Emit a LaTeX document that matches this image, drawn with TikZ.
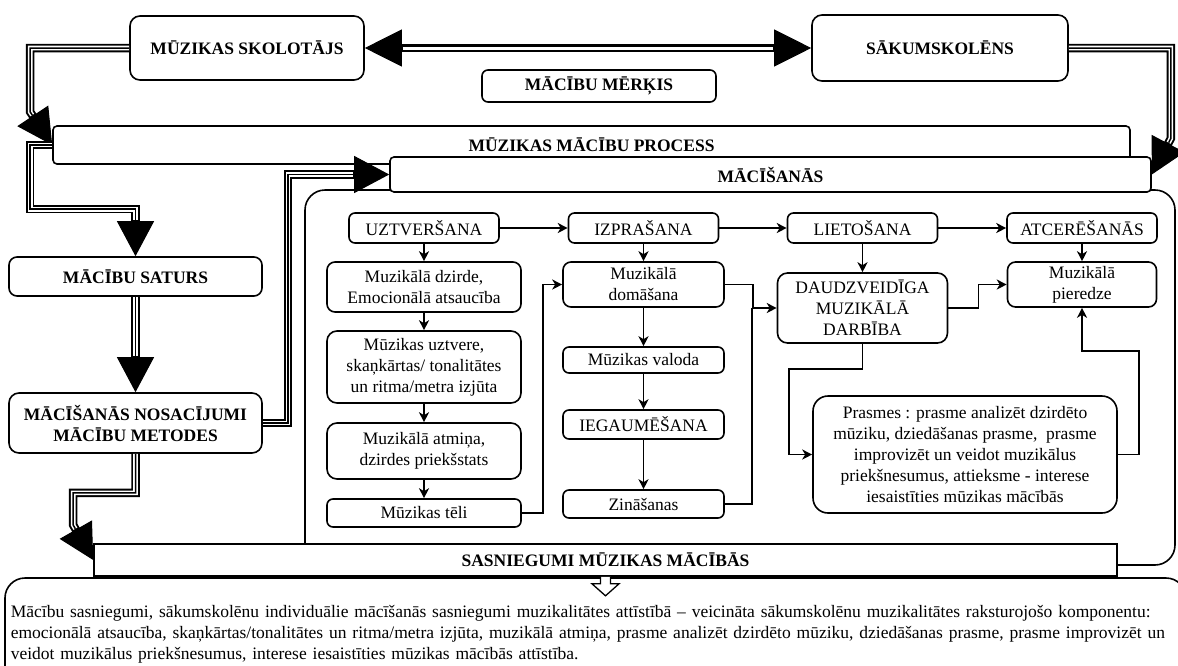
\documentclass[tikz,border=0pt]{standalone}
\usepackage{fontspec}
\setmainfont{Liberation Serif}
\usetikzlibrary{arrows.meta}

\newcommand{\txtsize}{\fontsize{17.5}{21}\selectfont}

\begin{document}
\begin{tikzpicture}[x=1pt, y=-1pt, line width=1.6pt, font=\txtsize,
        >={Stealth[length=10pt,width=10pt,inset=3pt]},
        cell/.style={draw, fill=white, rounded corners=#1, inner sep=0pt, align=center},
        cell/.default=7pt,
        headbox/.style={cell=#1, font=\txtsize\bfseries},
        headbox/.default=4pt,
        bigarrow/.style={-{Triangle[length=35pt,width=37pt]}, line width=1pt,
            preaction={draw, arrows=-, line width=8.5pt, shorten >=34pt},
            postaction={draw=white, arrows=-, line width=4.6pt, shorten >=36pt},
            postaction={draw, arrows=-, line width=1.5pt, shorten >=36pt}},
        bigboth/.style={{Triangle[length=37pt,width=37pt]}-{Triangle[length=37pt,width=37pt]}, line width=1pt,
            preaction={draw, arrows=-, line width=8pt, shorten >=36pt, shorten <=36pt},
            postaction={draw=white, arrows=-, line width=3pt, shorten >=38pt, shorten <=38pt}}]
    \useasboundingbox (0,0) rectangle (1178,665);
    \clip (0,0) rectangle (1178,665);

    \draw[rounded corners=20pt] (305,190) rectangle (1175,565);
    \draw[rounded corners=20pt] (5,578) rectangle (1186,690);

    \node[headbox=10pt, minimum width=234pt, minimum height=64pt] (skol) at (247,48) {MŪZIKAS SKOLOTĀJS};
    \node[headbox=10pt, minimum width=256pt, minimum height=66pt] (sak) at (940,48) {SĀKUMSKOLĒNS};
    \node[headbox=6pt, minimum width=234pt, minimum height=32pt] (merkis) at (599,86) {MĀCĪBU MĒRĶIS};
    \node[headbox, minimum width=1077pt, minimum height=38pt] (proc) at (591.5,145) {MŪZIKAS MĀCĪBU PROCESS};
    \node[headbox, minimum width=761pt, minimum height=35pt] (mac) at (770.5,174.5) {MĀCĪŠANĀS};
    \node[headbox=8pt, minimum width=253pt, minimum height=39pt] (satur) at (135.5,276.5) {MĀCĪBU SATURS};
    \node[headbox=10pt, minimum width=253pt, minimum height=60pt] (nos) at (135.5,423) {MĀCĪŠANĀS NOSACĪJUMI\\MĀCĪBU METODES};
    \node[headbox=0pt, minimum width=1023pt, minimum height=32pt] (sasn) at (605.5,560) {SASNIEGUMI MŪZIKAS MĀCĪBĀS};

    \node[cell=6pt, minimum width=150pt, minimum height=30pt] (uzt) at (424,228) {UZTVERŠANA};
    \node[cell=6pt, minimum width=150pt, minimum height=30pt] (izpr) at (643.5,228) {IZPRAŠANA};
    \node[cell=6pt, minimum width=150pt, minimum height=30pt] (liet) at (862.5,228) {LIETOŠANA};
    \node[cell=6pt, minimum width=150pt, minimum height=30pt] (atc) at (1082,228) {ATCERĒŠANĀS};

    \node[cell=8pt, minimum width=194pt, minimum height=50pt] (dzirde) at (424,287) {Muzikālā dzirde,\\Emocionālā atsaucība};
    \node[cell=10pt, minimum width=194pt, minimum height=72pt] (uztvere) at (424,367) {Mūzikas uztvere,\\skaņkārtas/ tonalitātes\\un ritma/metra izjūta};
    \node[cell=10pt, minimum width=194pt, minimum height=56pt] (atmina) at (424,451) {Muzikālā atmiņa,\\dzirdes priekšstats};
    \node[cell=6pt, minimum width=194pt, minimum height=28pt] (teli) at (424,513) {Mūzikas tēli};

    \node[cell=8pt, minimum width=161pt, minimum height=45pt] (domas) at (643.5,284.5) {Muzikālā\\domāšana};
    \node[cell=6pt, minimum width=161pt, minimum height=26pt] (valoda) at (643.5,360) {Mūzikas valoda};
    \node[cell=6pt, minimum width=161pt, minimum height=29pt] (iegaum) at (643.5,424.5) {IEGAUMĒŠANA};
    \node[cell=6pt, minimum width=161pt, minimum height=28pt] (zinas) at (643.5,504) {Zināšanas};

    \node[cell=10pt, minimum width=170pt, minimum height=70pt] (daudz) at (862.5,308) {DAUDZVEIDĪGA\\MUZIKĀLĀ\\DARBĪBA};
    \node[cell=8pt, minimum width=149pt, minimum height=45pt] (pier) at (1082,284.5) {Muzikālā\\pieredze};
    \node[cell=15pt, minimum width=304pt, minimum height=117pt] (prasmes) at (965,454.5) {Prasmes : prasme analizēt dzirdēto\\mūziku, dziedāšanas prasme,~ prasme\\improvizēt un veidot muzikālus\\priekšnesumus, attieksme - interese\\iesaistīties mūzikas mācībās};

    \node[anchor=north west, inner sep=0pt, text width=1158pt, align=left] (summary) at (10,605)
        {\makebox[1158pt][s]{Mācību sasniegumi, sākumskolēnu individuālie mācīšanās sasniegumi muzikalitātes attīstībā – veicināta sākumskolēnu muzikalitātes raksturojošo komponentu:}\\
         \makebox[1158pt][s]{emocionālā atsaucība, skaņkārtas/tonalitātes un ritma/metra izjūta, muzikālā atmiņa, prasme analizēt dzirdēto mūziku, dziedāšanas prasme, prasme improvizēt un}\\
         veidot muzikālus priekšnesumus, interese iesaistīties mūzikas mācībās attīstība.};

    \draw[bigboth] (skol.east) -- (sak.west);
    \draw[bigarrow] (skol.west) -| ([xshift=-22pt,yshift=33pt]proc.west) -- (proc.west);
    \draw[bigarrow] (sak.east) -| ([xshift=19pt,yshift=36pt]mac.east) -- (mac.east);
    \draw[bigarrow] (proc.west) -- ++(-22,0) |- ([yshift=47pt]satur.north) -- (satur.north);
    \draw[bigarrow] (satur) -- (nos);
    \draw[bigarrow] (nos.east) -- ++(25,0) |- (mac.west);
    \draw[bigarrow] (nos.south) -- ++(0,39) -| ([xshift=-20pt,yshift=35pt]sasn.west) -- (sasn.west);

    \draw[->] (uzt) -- (izpr);
    \draw[->] (izpr) -- (liet);
    \draw[->] (liet) -- (atc);
    \draw[->] (uzt) -- (dzirde);
    \draw[->] (dzirde) -- (uztvere);
    \draw[->] (uztvere) -- (atmina);
    \draw[->] (atmina) -- (teli);
    \draw[->] (izpr) -- (domas);
    \draw[->] (domas) -- (valoda);
    \draw[->] (valoda) -- (iegaum);
    \draw[->] (iegaum) -- (zinas);
    \draw[->] (liet) -- (daudz);
    \draw[->] (atc) -- (pier);
    \draw[->] (teli.east) -- ++(21,0) |- (domas.west);
    \draw[->] (domas.east) -- ++(28,0) |- (daudz.west);
    \draw (zinas.east) -| ([xshift=-25pt]daudz.west);
    \draw[->] (daudz.east) -- ++(30,0) |- (pier.west);
    \draw[->] (daudz.south) -- ++(0,25) -| ([xshift=-23pt]prasmes.west) -- (prasmes.west);
    \draw[->] (prasmes.east) -- ++(21,0) |- ([yshift=-43pt]pier.south) -- (pier.south);

    \draw[fill=white, line width=1.3pt] (sasn.south) ++(-5,0) -- ++(0,7) -- ++(-8.5,0)
        -- ++(13.5,12) -- ++(13.5,-12) -- ++(-8.5,0) -- ++(0,-7);
\end{tikzpicture}
\end{document}
